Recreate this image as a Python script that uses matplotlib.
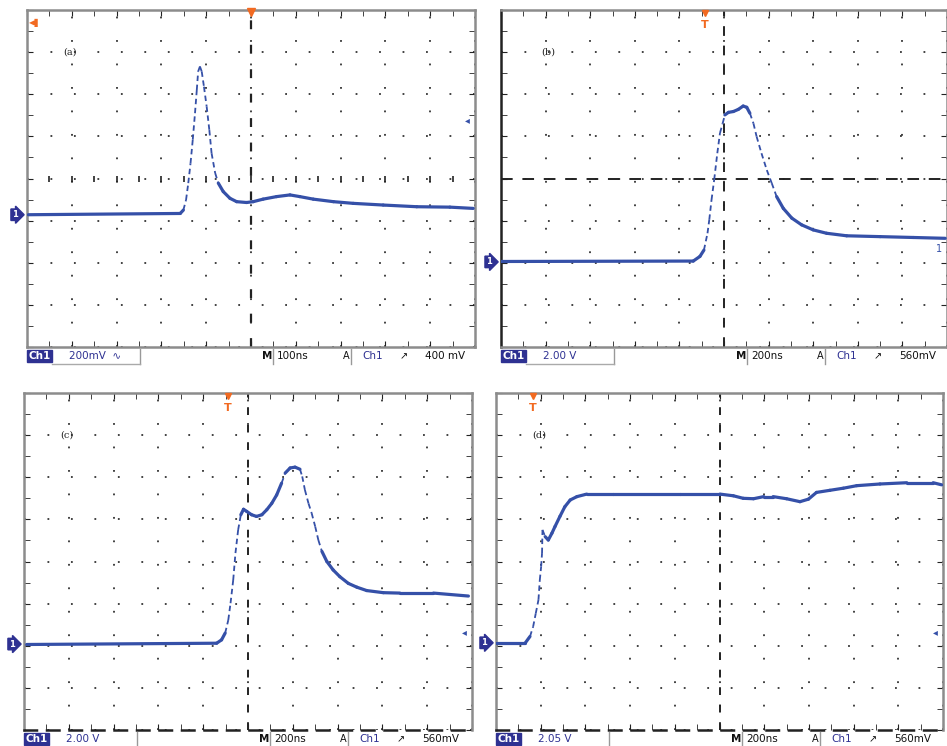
import numpy as np
import matplotlib.pyplot as plt
from matplotlib.collections import LineCollection
from matplotlib.lines import Line2D

# traces, in graticule divisions (10 x 8)
a_t = [0.03, 3.42, 3.49, 3.55, 3.60, 3.65, 3.70, 3.75, 3.79, 3.82, 3.86, 3.90, 3.95,
       4.01, 4.07, 4.12, 4.20, 4.27, 4.38, 4.53, 4.68, 4.90, 5.05, 5.27, 5.57, 5.87,
       6.09, 6.39, 6.84, 7.28, 7.95, 8.70, 9.44, 9.96]
a_v = [3.14, 3.17, 3.25, 3.49, 3.89, 4.36, 4.92, 5.55, 6.10, 6.54, 6.66, 6.54, 6.18,
       5.71, 5.15, 4.60, 4.13, 3.89, 3.69, 3.53, 3.45, 3.43, 3.45, 3.51, 3.57, 3.61,
       3.57, 3.51, 3.45, 3.41, 3.37, 3.33, 3.32, 3.29]

b_t = [0.0, 4.31, 4.46, 4.55, 4.63, 4.67, 4.72, 4.78, 4.85, 4.91, 4.97, 5.02, 5.10,
       5.21, 5.32, 5.43, 5.51, 5.58, 5.66, 5.73, 5.84, 5.96, 6.07, 6.18, 6.33, 6.52,
       6.74, 7.00, 7.30, 7.75, 8.50, 9.24, 9.96]
b_v = [2.03, 2.04, 2.15, 2.30, 2.70, 3.02, 3.49, 3.97, 4.60, 5.08, 5.31, 5.51, 5.57,
       5.59, 5.64, 5.72, 5.69, 5.55, 5.31, 5.00, 4.60, 4.20, 3.89, 3.57, 3.29, 3.06,
       2.90, 2.78, 2.70, 2.64, 2.62, 2.60, 2.58]

c_t = [0.06, 4.30, 4.41, 4.49, 4.56, 4.61, 4.67, 4.72, 4.78, 4.84, 4.90, 4.97, 5.08,
       5.19, 5.31, 5.42, 5.53, 5.64, 5.75, 5.83, 5.94, 6.05, 6.16, 6.21, 6.27, 6.35,
       6.42, 6.50, 6.57, 6.65, 6.76, 6.90, 7.05, 7.24, 7.43, 7.65, 8.02, 8.39, 9.14, 9.92]
c_v = [2.03, 2.06, 2.14, 2.30, 2.61, 3.01, 3.56, 4.20, 4.75, 5.11, 5.24, 5.19, 5.11,
       5.07, 5.11, 5.23, 5.38, 5.58, 5.86, 6.10, 6.22, 6.24, 6.19, 6.02, 5.70, 5.38,
       5.15, 4.83, 4.51, 4.24, 4.00, 3.80, 3.64, 3.48, 3.39, 3.31, 3.26, 3.25, 3.25, 3.18]

d_t = [0.01, 0.65, 0.76, 0.83, 0.89, 0.95, 0.98, 1.01, 1.03, 1.04, 1.10, 1.17, 1.25,
       1.32, 1.43, 1.54, 1.66, 1.81, 2.03, 2.62, 4.12, 5.01, 5.31, 5.53, 5.76, 5.99,
       6.20, 6.50, 6.80, 6.99, 7.17, 7.47, 7.77, 8.07, 8.59, 9.19, 9.78, 9.97]
d_v = [2.06, 2.06, 2.22, 2.45, 2.77, 3.09, 3.56, 3.88, 4.20, 4.75, 4.59, 4.51, 4.67,
       4.83, 5.07, 5.30, 5.46, 5.54, 5.60, 5.60, 5.60, 5.60, 5.56, 5.50, 5.49, 5.54,
       5.54, 5.49, 5.42, 5.48, 5.64, 5.69, 5.74, 5.80, 5.84, 5.87, 5.87, 5.82]

labels = ["(a)", "(b)", "(c)", "(d)"]
ground = [3.14, 2.02, 2.04, 2.07]
trig_pos = [5.0, 4.57, 4.55, 0.83]
ref_marker = [5.39, 2.33, 2.33, 2.33]
ch_scale = ["200mV  \u223f", "2.00 V", "2.00 V", "2.05 V"]
time_base = ["100ns", "200ns", "200ns", "200ns"]
trig_level = ["400 mV", "560mV", "560mV", "560mV"]

W, H = 947, 746
# panel frames in pixels: left, top, width, height
frames = [(27, 10, 448, 337), (501, 10, 446, 337), (24, 393, 448, 337), (496, 393, 447, 337)]

TRACE = "#3550a8"
DARKBLUE = "#2e3192"
ORANGE = "#f26a21"

fig = plt.figure(figsize=(W / 100, H / 100), dpi=100)


def draw_trace(ax, t, v):
    pts = np.column_stack([t, v])
    segs = np.stack([pts[:-1], pts[1:]], axis=1)
    slope = np.abs(np.diff(v) / np.diff(t))
    steep = slope > 2.6
    ax.add_collection(LineCollection(segs[~steep], colors=TRACE, linewidths=2.3,
                                     capstyle="round", joinstyle="round", zorder=5))
    ax.add_collection(LineCollection(segs[steep], colors=TRACE, linewidths=1.3,
                                     linestyles=[(0, (3, 2))], zorder=5))


traces = [(a_t, a_v), (b_t, b_v), (c_t, c_v), (d_t, d_v)]

for i, (l, t, w, h) in enumerate(frames):
    ax = fig.add_axes([l / W, 1 - (t + h) / H, w / W, h / H])
    ax.set_xlim(0, 10)
    ax.set_ylim(0, 8)
    ax.set_xticks(range(11))
    ax.set_yticks(range(9))
    ax.set_xticks(np.arange(0, 10.01, 0.5), minor=True)
    ax.set_yticks(np.arange(0, 8.01, 0.5), minor=True)
    ax.tick_params(which="both", direction="in", length=4, color="#222222",
                   top=True, right=True, labelbottom=False, labelleft=False)
    ax.grid(True, color="#333333", linestyle=(0, (1, 12)), linewidth=1.3)
    for s in ax.spines.values():
        s.set_color("#8c8c8c")
        s.set_linewidth(1.8)

    # centre graticule lines
    if i == 0:
        ax.axvline(5, color="#222222", lw=1.6, ls=(0, (4, 7)))
        ax.plot(np.arange(0.5, 10, 0.5), np.full(19, 4.0), ls="none", marker="|",
                ms=5, color="#222222", mew=1.2)
    elif i == 1:
        ax.axvline(5, color="#222222", lw=1.4, ls=(0, (5, 5)))
        ax.axhline(4, color="#222222", lw=1.4, ls=(0, (6, 5)))
        ax.spines["left"].set_color("#222222")
    else:
        ax.axvline(5, color="#222222", lw=1.4, ls=(0, (4, 5)))
        ax.spines["bottom"].set_color("#222222")
        ax.spines["bottom"].set_linestyle((0, (5, 4)))

    draw_trace(ax, *traces[i])

    # panel label
    ax.text(0.96 if i != 1 else 1.05, 7.0, labels[i], fontsize=7, family="DejaVu Serif",
            ha="center", va="center", color="#222222")

    # trigger position marker
    if i == 0:
        ax.plot([trig_pos[i]], [7.95], marker="v", ms=6, color=ORANGE, clip_on=False, zorder=6)
        ax.text(0.05, 7.7, "\u25c0\u258c", color=ORANGE, fontsize=6, ha="left", va="center")
    else:
        ax.plot([trig_pos[i]], [7.93], marker="v", ms=5, color=ORANGE, clip_on=False, zorder=6)
        ax.text(trig_pos[i], 7.65, "T", color=ORANGE, fontsize=8, fontweight="bold",
                ha="center", va="center", zorder=6)

    # ground marker on the left
    ax.text(-0.2, ground[i], "1", color="white", fontsize=6, fontweight="bold",
            ha="right", va="center", clip_on=False, zorder=7,
            bbox=dict(boxstyle="rarrow,pad=0.15", fc=DARKBLUE, ec=DARKBLUE))
    # trigger level marker on the right
    ax.text(9.82, ref_marker[i], "\u25c2" if i != 1 else "1", color=TRACE, fontsize=7,
            ha="center", va="center", zorder=7)

    # status bar under the graticule
    y = 1 - (t + h + 9) / H
    fig.text((l + 1) / W, y, "Ch1", color="white", fontsize=7.5, fontweight="bold",
             va="center", bbox=dict(boxstyle="square,pad=0.12", fc=DARKBLUE, ec=DARKBLUE))
    fig.text((l + 42) / W, y, ch_scale[i], color=DARKBLUE, fontsize=7.5, va="center")
    fig.text((l + 235) / W, y, "M", color="#111111", fontsize=7.5, fontweight="bold", va="center")
    fig.text((l + 250) / W, y, time_base[i], color="#111111", fontsize=7.5, va="center")
    fig.text((l + 316) / W, y, "A", color="#111111", fontsize=7, va="center")
    fig.text((l + 335) / W, y, "Ch1", color=DARKBLUE, fontsize=7.5, va="center")
    fig.text((l + 373) / W, y, "\u2197", color="#111111", fontsize=7, va="center")
    fig.text((l + 398) / W, y, trig_level[i], color="#111111", fontsize=7.5, va="center")
    for dx in (113, 246, 324):
        fig.add_artist(Line2D([(l + dx) / W] * 2, [1 - (t + h + 2) / H, 1 - (t + h + 17) / H],
                              color="#999999", lw=1.0))
    fig.add_artist(Line2D([(l + 25) / W, (l + 113) / W], [1 - (t + h + 17) / H] * 2,
                          color="#aaaaaa", lw=1.0))

fig.savefig("out.png", dpi=100)
